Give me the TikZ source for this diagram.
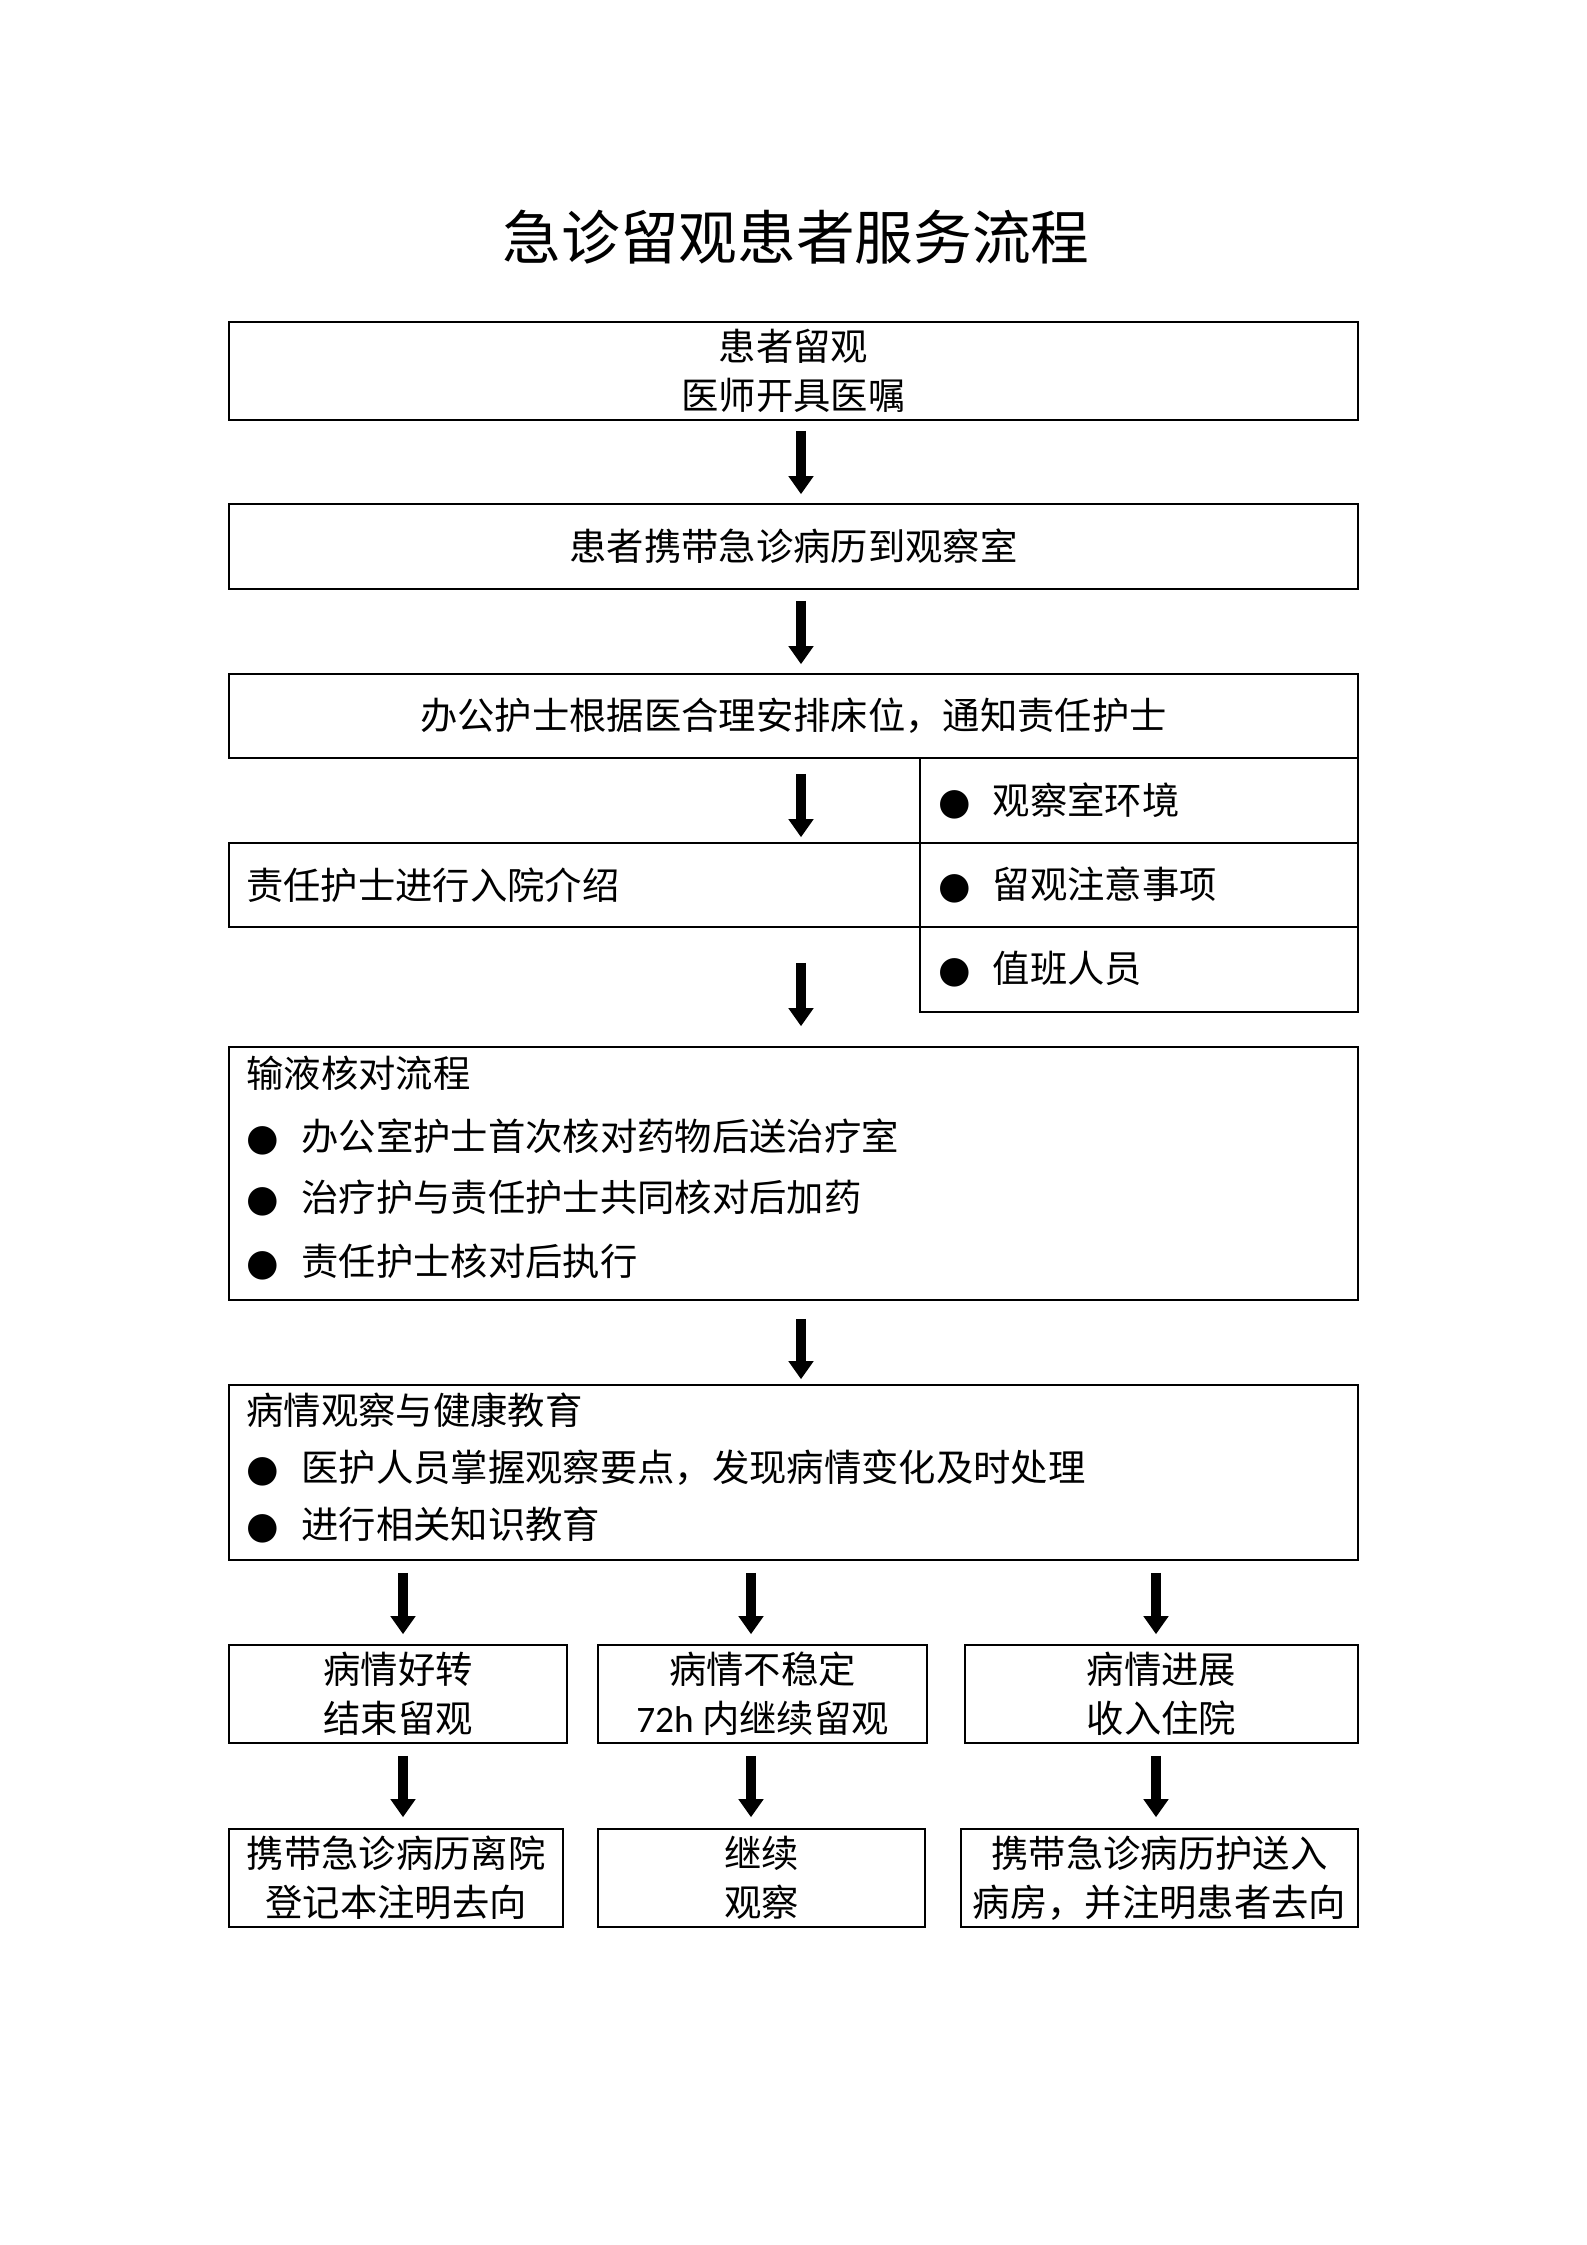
\documentclass[tikz,border=0pt]{standalone}
\usepackage{fontspec}
\setmainfont{Noto Sans CJK SC}
\newfontfamily\dejavu{DejaVu Sans}
\newfontfamily\carlito{Carlito}
\usetikzlibrary{arrows.meta,calc}
\newcommand\px[1]{#1*0.375pt}
\newcommand\bul{\makebox[20.6pt][l]{\dejavu ●}}
\begin{document}
\begin{tikzpicture}[x=0.375pt,y=-0.375pt,
  box/.style={draw,line width=0.6pt,inner sep=0pt,align=center,
    font=\fontsize{14pt}{18.4pt}\selectfont},
  lbox/.style={box,align=left},
  txt/.style={inner sep=0pt,anchor=west,font=\fontsize{14pt}{18.4pt}\selectfont},
  bigarrow/.style={line width=4.1pt,-{Triangle[width=9pt,length=6.75pt]}}]
\fill[white] (0,0) rectangle (1587,2245);
\useasboundingbox (0,0) rectangle (1587,2245);

\node[inner sep=0pt,font=\fontsize{22pt}{26pt}\selectfont] (title) at (796,237) {急诊留观患者服务流程};

\node[box,minimum width=\px{1129},minimum height=\px{98}] (b1) at (793.5,371) {患者留观\\医师开具医嘱};
\node[box,minimum width=\px{1129},minimum height=\px{85}] (b2) at (793.5,546.5) {患者携带急诊病历到观察室};
\node[box,minimum width=\px{1129},minimum height=\px{84}] (b3) at (793.5,716) {办公护士根据医合理安排床位，通知责任护士};

\node[lbox,minimum height=\px{85},inner xsep=\px{18},text width=\px{402}] (r1) at (1139,800.5) {\bul 观察室环境};
\node[lbox,minimum height=\px{84},inner xsep=\px{18},text width=\px{402}] (r2) at (1139,885) {\bul 留观注意事项};
\node[lbox,minimum height=\px{85},inner xsep=\px{18},text width=\px{402}] (r3) at (1139,969.5) {\bul 值班人员};
\node[lbox,minimum height=\px{84},inner xsep=\px{17},text width=\px{657}] (lb) at (574.5,885) {责任护士进行入院介绍};

\node[box,minimum width=\px{1129},minimum height=\px{253}] (b4) at (793.5,1173.5) {};
\node[txt] (b4t) at (246,1073) {输液核对流程};
\node[txt] (b4a) at (246,1137) {\bul 办公室护士首次核对药物后送治疗室};
\node[txt] (b4b) at (246,1198) {\bul 治疗护与责任护士共同核对后加药};
\node[txt] (b4c) at (246,1262) {\bul 责任护士核对后执行};

\node[box,minimum width=\px{1129},minimum height=\px{175}] (b5) at (793.5,1472.5) {};
\node[txt] (b5t) at (246,1410) {病情观察与健康教育};
\node[txt] (b5a) at (246,1468) {\bul 医护人员掌握观察要点，发现病情变化及时处理};
\node[txt] (b5b) at (246,1525) {\bul 进行相关知识教育};

\node[box,minimum width=\px{338},minimum height=\px{98}] (c1) at (398,1694) {病情好转\\结束留观};
\node[box,minimum width=\px{329},minimum height=\px{98}] (c2) at (762.5,1694) {病情不稳定\\{\carlito 72h} 内继续留观};
\node[box,minimum width=\px{393},minimum height=\px{98}] (c3) at (1161.5,1694) {病情进展\\收入住院};

\node[box,minimum width=\px{334},minimum height=\px{98}] (d1) at (396,1878) {携带急诊病历离院\\登记本注明去向};
\node[box,minimum width=\px{327},minimum height=\px{98}] (d2) at (761.5,1878) {继续\\观察};
\node[box,minimum width=\px{397},minimum height=\px{98}] (d3) at (1159.5,1878) {携带急诊病历护送入\\病房，并注明患者去向};

\draw[bigarrow] ($(b1.south)+(7.5,10)$) -- ($(b2.north)+(7.5,-9)$);
\draw[bigarrow] ($(b2.south)+(7.5,11)$) -- ($(b3.north)+(7.5,-9)$);
\draw[bigarrow] ($(b3.south)+(7.5,15)$) -- ($(b3.south |- lb.north)+(7.5,-5)$);
\draw[bigarrow] ($(b3.south |- lb.south)+(7.5,35)$) -- ($(b3.south |- b4.north)+(7.5,-20)$);
\draw[bigarrow] ($(b4.south)+(7.5,18)$) -- ($(b5.north)+(7.5,-5)$);

\draw[bigarrow] ($(c1.north |- b5.south)+(5,12)$) -- ($(c1.north)+(5,-10)$);
\draw[bigarrow] ($(c2.north |- b5.south)+(-11.5,12)$) -- ($(c2.north)+(-11.5,-10)$);
\draw[bigarrow] ($(c3.north |- b5.south)+(-5.5,12)$) -- ($(c3.north)+(-5.5,-10)$);

\draw[bigarrow] ($(c1.south)+(5,12)$) -- ($(c1.south |- d1.north)+(5,-11)$);
\draw[bigarrow] ($(c2.south)+(-11.5,12)$) -- ($(c2.south |- d2.north)+(-11.5,-11)$);
\draw[bigarrow] ($(c3.south)+(-5.5,12)$) -- ($(c3.south |- d3.north)+(-5.5,-11)$);
\end{tikzpicture}
\end{document}
